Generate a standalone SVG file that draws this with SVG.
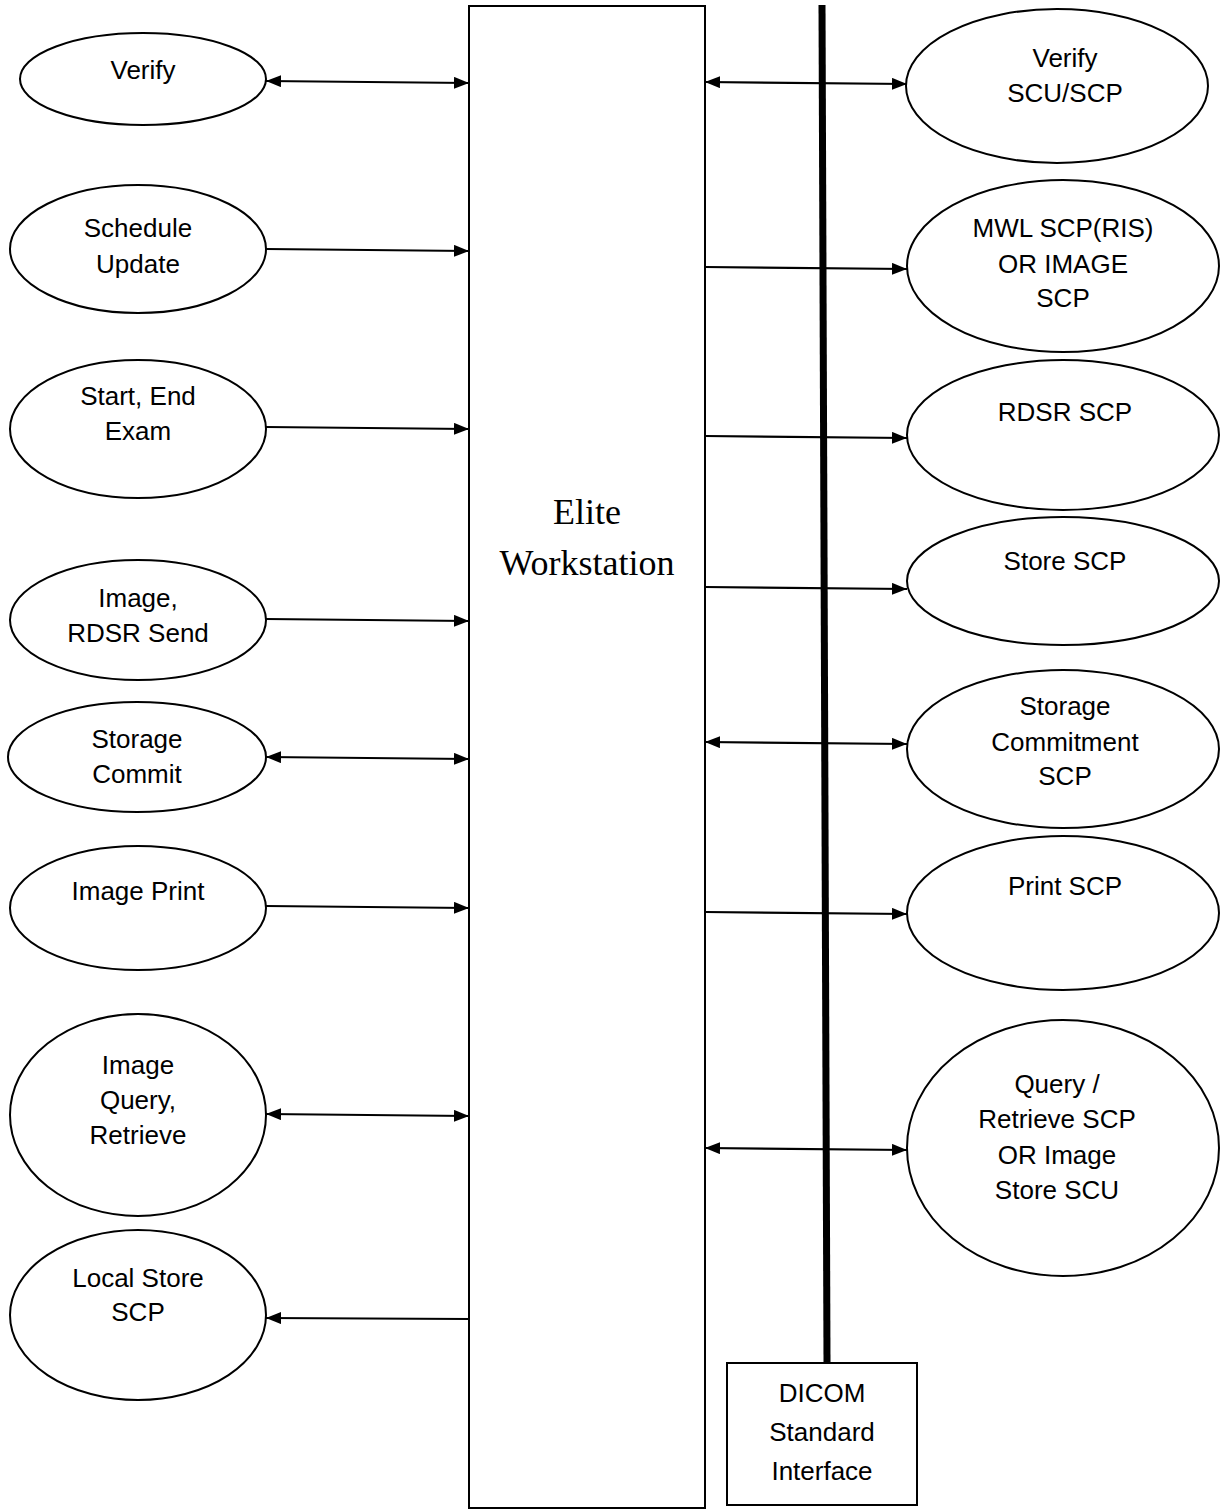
<svg xmlns="http://www.w3.org/2000/svg" width="1225" height="1512" viewBox="0 0 1225 1512">
<style>
.n{fill:#fff;stroke:#000;stroke-width:2}
.t{font-family:"Liberation Sans",Arial,sans-serif;font-size:26px;fill:#000;text-anchor:middle}
.c{stroke:#000;stroke-width:2.2;fill:none}
</style>
<defs>
<marker id="ah" viewBox="0 0 15 12" refX="15" refY="6" markerWidth="15" markerHeight="12" markerUnits="userSpaceOnUse" orient="auto-start-reverse">
<path d="M0,0 L15,6 L0,12 Z" fill="#000"/>
</marker>
</defs>
<rect width="1225" height="1512" fill="#fff"/>
<g id="workstation">
<rect class="n" x="469" y="6" width="236" height="1502" stroke-width="1.5"/>
<text x="587" y="524" font-family="'Liberation Serif','Times New Roman',serif" font-size="36" text-anchor="middle">Elite</text>
<text x="587" y="575" font-family="'Liberation Serif','Times New Roman',serif" font-size="36" text-anchor="middle">Workstation</text>
</g>
<g id="dicom">
<rect class="n" x="727" y="1363" width="190" height="142"/>
<text class="t" x="822" y="1402" font-size="29.5">DICOM</text>
<text class="t" x="822" y="1441" font-size="29.5">Standard</text>
<text class="t" x="822" y="1480" font-size="29.5">Interface</text>
</g>
<g id="l-verify"><ellipse class="n" cx="143" cy="79" rx="123" ry="46"/><text class="t" x="143" y="79">Verify</text></g>
<g id="l-schedule"><ellipse class="n" cx="138" cy="249" rx="128" ry="64"/><text class="t" x="138" y="237">Schedule</text><text class="t" x="138" y="273">Update</text></g>
<g id="l-exam"><ellipse class="n" cx="138" cy="429" rx="128" ry="69"/><text class="t" x="138" y="405">Start, End</text><text class="t" x="138" y="440">Exam</text></g>
<g id="l-send"><ellipse class="n" cx="138" cy="620" rx="128" ry="60"/><text class="t" x="138" y="607">Image,</text><text class="t" x="138" y="642">RDSR Send</text></g>
<g id="l-commit"><ellipse class="n" cx="137" cy="757" rx="129" ry="55"/><text class="t" x="137" y="748">Storage</text><text class="t" x="137" y="783">Commit</text></g>
<g id="l-print"><ellipse class="n" cx="138" cy="908" rx="128" ry="62"/><text class="t" x="138" y="900">Image Print</text></g>
<g id="l-query"><ellipse class="n" cx="138" cy="1115" rx="128" ry="101"/><text class="t" x="138" y="1074">Image</text><text class="t" x="138" y="1109">Query,</text><text class="t" x="138" y="1144">Retrieve</text></g>
<g id="l-local"><ellipse class="n" cx="138" cy="1315" rx="128" ry="85"/><text class="t" x="138" y="1287">Local Store</text><text class="t" x="138" y="1321">SCP</text></g>
<g id="r-verify"><ellipse class="n" cx="1057" cy="86" rx="151" ry="77"/><text class="t" x="1065" y="67">Verify</text><text class="t" x="1065" y="102">SCU/SCP</text></g>
<g id="r-mwl"><ellipse class="n" cx="1063" cy="266" rx="156" ry="86"/><text class="t" x="1063" y="237">MWL SCP(RIS)</text><text class="t" x="1063" y="273">OR IMAGE</text><text class="t" x="1063" y="307">SCP</text></g>
<g id="r-rdsr"><ellipse class="n" cx="1063" cy="435" rx="156" ry="75"/><text class="t" x="1065" y="421">RDSR SCP</text></g>
<g id="r-store"><ellipse class="n" cx="1063" cy="581" rx="156" ry="64"/><text class="t" x="1065" y="570">Store SCP</text></g>
<g id="r-commit"><ellipse class="n" cx="1063" cy="749" rx="156" ry="79"/><text class="t" x="1065" y="715">Storage</text><text class="t" x="1065" y="751">Commitment</text><text class="t" x="1065" y="785">SCP</text></g>
<g id="r-print"><ellipse class="n" cx="1063" cy="913" rx="156" ry="77"/><text class="t" x="1065" y="895">Print SCP</text></g>
<g id="r-query"><ellipse class="n" cx="1063" cy="1148" rx="156" ry="128"/><text class="t" x="1057" y="1093">Query /</text><text class="t" x="1057" y="1128">Retrieve SCP</text><text class="t" x="1057" y="1164">OR Image</text><text class="t" x="1057" y="1199">Store SCU</text></g>
<g id="connectors">
<line class="c" x1="266" y1="81" x2="469" y2="83" marker-start="url(#ah)" marker-end="url(#ah)"/>
<line class="c" x1="266" y1="249" x2="469" y2="251" marker-end="url(#ah)"/>
<line class="c" x1="266" y1="427" x2="469" y2="429" marker-end="url(#ah)"/>
<line class="c" x1="266" y1="619" x2="469" y2="621" marker-end="url(#ah)"/>
<line class="c" x1="266" y1="757" x2="469" y2="759" marker-start="url(#ah)" marker-end="url(#ah)"/>
<line class="c" x1="266" y1="906" x2="469" y2="908" marker-end="url(#ah)"/>
<line class="c" x1="266" y1="1114" x2="469" y2="1116" marker-start="url(#ah)" marker-end="url(#ah)"/>
<line class="c" x1="469" y1="1319" x2="266" y2="1318" marker-end="url(#ah)"/>
<line class="c" x1="705" y1="82" x2="907" y2="84" marker-start="url(#ah)" marker-end="url(#ah)"/>
<line class="c" x1="705" y1="267" x2="907" y2="269" marker-end="url(#ah)"/>
<line class="c" x1="705" y1="436" x2="907" y2="438" marker-end="url(#ah)"/>
<line class="c" x1="705" y1="587" x2="907" y2="589" marker-end="url(#ah)"/>
<line class="c" x1="705" y1="742" x2="907" y2="744" marker-start="url(#ah)" marker-end="url(#ah)"/>
<line class="c" x1="705" y1="912" x2="907" y2="914" marker-end="url(#ah)"/>
<line class="c" x1="705" y1="1148" x2="907" y2="1150" marker-start="url(#ah)" marker-end="url(#ah)"/>
</g>
<g id="bus">
<line x1="822" y1="5" x2="827" y2="1363" stroke="#000" stroke-width="7"/>
</g>
</svg>
